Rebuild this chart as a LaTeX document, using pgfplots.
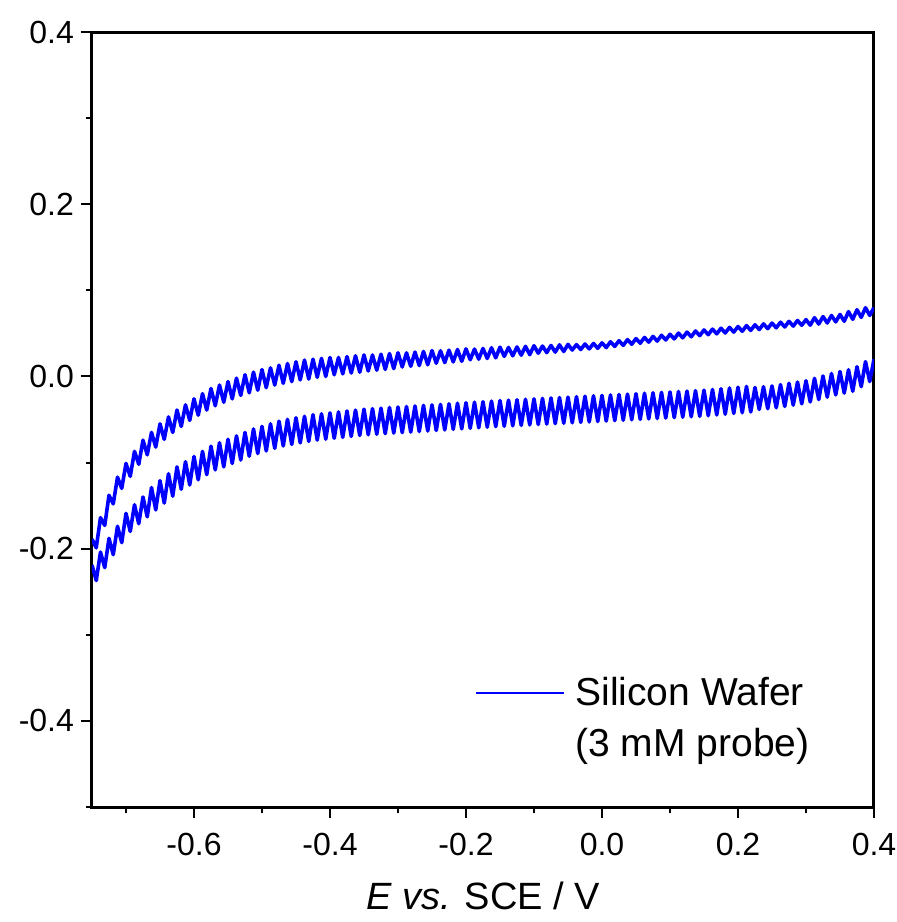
\documentclass[border=0pt]{standalone}
\usepackage{pgfplots}
\pgfplotsset{compat=1.18}
\usepackage{pgfplotstable}
\usepackage{fontspec}
\setmainfont{Liberation Sans}

\pgfplotstableread{
x yu yl
-0.75 -0.189 -0.219
-0.74375 -0.199 -0.237
-0.7375 -0.164 -0.204
-0.73125 -0.173 -0.222
-0.725 -0.138 -0.188
-0.71875 -0.148 -0.207
-0.7125 -0.117 -0.174
-0.70625 -0.130 -0.193
-0.7 -0.101 -0.159
-0.69375 -0.116 -0.180
-0.6875 -0.087 -0.149
-0.68125 -0.102 -0.171
-0.675 -0.074 -0.140
-0.66875 -0.091 -0.163
-0.6625 -0.065 -0.129
-0.65625 -0.082 -0.155
-0.65 -0.055 -0.121
-0.64375 -0.073 -0.147
-0.6375 -0.047 -0.113
-0.63125 -0.065 -0.139
-0.625 -0.039 -0.105
-0.61875 -0.058 -0.131
-0.6125 -0.033 -0.099
-0.60625 -0.051 -0.126
-0.6 -0.026 -0.093
-0.59375 -0.045 -0.120
-0.5875 -0.020 -0.087
-0.58125 -0.039 -0.114
-0.575 -0.014 -0.081
-0.56875 -0.034 -0.1085
-0.5625 -0.010 -0.077
-0.55625 -0.030 -0.105
-0.55 -0.006 -0.073
-0.54375 -0.026 -0.101
-0.5375 -0.002 -0.069
-0.53125 -0.022 -0.097
-0.525 0.002 -0.065
-0.51875 -0.019 -0.0926
-0.5125 0.005 -0.061
-0.50625 -0.016 -0.0895
-0.5 0.008 -0.058
-0.49375 -0.013 -0.0865
-0.4875 0.010 -0.055
-0.48125 -0.010 -0.0835
-0.475 0.013 -0.052
-0.46875 -0.008 -0.0807
-0.4625 0.015 -0.0498
-0.45625 -0.006 -0.0789
-0.45 0.017 -0.048
-0.44375 -0.004 -0.0771
-0.4375 0.019 -0.0463
-0.43125 -0.003 -0.0754
-0.425 0.020 -0.0445
-0.41875 -0.001 -0.0739
-0.4125 0.021 -0.0434
-0.40625 0.000 -0.0728
-0.4 0.022 -0.0423
-0.39375 0.002 -0.0718
-0.3875 0.022 -0.0412
-0.38125 0.003 -0.0707
-0.375 0.023 -0.0401
-0.36875 0.004 -0.0696
-0.3625 0.024 -0.0391
-0.35625 0.005 -0.0685
-0.35 0.025 -0.038
-0.34375 0.0064 -0.0677
-0.3375 0.0249 -0.0374
-0.33125 0.0073 -0.0671
-0.325 0.0258 -0.0368
-0.31875 0.0082 -0.0664
-0.3125 0.0266 -0.0361
-0.30625 0.0091 -0.0658
-0.3 0.0275 -0.0355
-0.29375 0.011 -0.0652
-0.2875 0.0274 -0.0349
-0.28125 0.0118 -0.0646
-0.275 0.0283 -0.0343
-0.26875 0.0127 -0.0639
-0.2625 0.0291 -0.0336
-0.25625 0.0136 -0.0633
-0.25 0.030 -0.033
-0.24375 0.0154 -0.0627
-0.2375 0.0298 -0.0324
-0.23125 0.0161 -0.0621
-0.225 0.0305 -0.0318
-0.21875 0.0169 -0.0614
-0.2125 0.0313 -0.0311
-0.20625 0.0176 -0.0608
-0.2 0.032 -0.0305
-0.19375 0.0194 -0.0602
-0.1875 0.0318 -0.0299
-0.18125 0.0201 -0.0596
-0.175 0.0325 -0.0293
-0.16875 0.0209 -0.0589
-0.1625 0.0333 -0.0286
-0.15625 0.0216 -0.0583
-0.15 0.034 -0.028
-0.14375 0.0233 -0.0578
-0.1375 0.0337 -0.0275
-0.13125 0.024 -0.0573
-0.125 0.0343 -0.027
-0.11875 0.0247 -0.0568
-0.1125 0.035 -0.0265
-0.10625 0.0253 -0.0563
-0.1 0.0357 -0.026
-0.09375 0.027 -0.0558
-0.0875 0.0353 -0.0255
-0.08125 0.0277 -0.0553
-0.075 0.036 -0.025
-0.06875 0.0283 -0.0548
-0.0625 0.0367 -0.0245
-0.05625 0.029 -0.0543
-0.05 0.0373 -0.024
-0.04375 0.0307 -0.0538
-0.0375 0.037 -0.0235
-0.03125 0.0313 -0.0533
-0.025 0.0377 -0.023
-0.01875 0.032 -0.0528
-0.0125 0.0383 -0.0225
-0.00625 0.0327 -0.0523
0 0.039 -0.022
0.00625 0.0336 -0.0518
0.0125 0.0403 -0.0215
0.01875 0.0349 -0.0513
0.025 0.0415 -0.021
0.03125 0.0361 -0.0508
0.0375 0.0428 -0.0205
0.04375 0.0374 -0.0503
0.05 0.044 -0.020
0.05625 0.0386 -0.0498
0.0625 0.0453 -0.0195
0.06875 0.0399 -0.0493
0.075 0.0465 -0.019
0.08125 0.0411 -0.0488
0.0875 0.0478 -0.0185
0.09375 0.0424 -0.0483
0.1 0.049 -0.018
0.10625 0.0436 -0.0478
0.1125 0.0503 -0.0175
0.11875 0.0449 -0.0473
0.125 0.0515 -0.017
0.13125 0.0461 -0.0468
0.1375 0.0528 -0.0165
0.14375 0.0474 -0.0463
0.15 0.054 -0.016
0.15625 0.0485 -0.0456
0.1625 0.055 -0.0151
0.16875 0.0495 -0.0447
0.175 0.056 -0.0143
0.18125 0.0505 -0.0438
0.1875 0.057 -0.0134
0.19375 0.0515 -0.0429
0.2 0.058 -0.0125
0.20625 0.0525 -0.0421
0.2125 0.059 -0.0116
0.21875 0.0535 -0.0412
0.225 0.060 -0.0128
0.23125 0.0545 -0.0383
0.2375 0.061 -0.0119
0.24375 0.0555 -0.0374
0.25 0.062 -0.011
0.25625 0.0565 -0.0363
0.2625 0.063 -0.0095
0.26875 0.0575 -0.0348
0.275 0.064 -0.008
0.28125 0.0585 -0.0333
0.2875 0.065 -0.0065
0.29375 0.0595 -0.0318
0.3 0.066 -0.005
0.30625 0.0596 -0.0296
0.3125 0.0683 -0.0022
0.31875 0.0609 -0.0268
0.325 0.0695 0.0006
0.33125 0.0621 -0.024
0.3375 0.0708 0.0034
0.34375 0.0634 -0.0214
0.35 0.072 0.0057
0.35625 0.0641 -0.0193
0.3625 0.0753 0.0078
0.36875 0.0664 -0.0172
0.375 0.0775 0.0113
0.38125 0.0686 -0.0118
0.3875 0.0798 0.0172
0.39375 0.0709 -0.0059
0.4 0.080 0.020
}\cvdata

\begin{document}
\begin{tikzpicture}
\begin{axis}[
  at={(0,0)}, anchor=south west,
  scale only axis, width=391pt, height=387.5pt,
  xmin=-0.75, xmax=0.4, ymin=-0.5, ymax=0.4,
  xtick={-0.6,-0.4,-0.2,0,0.2,0.4},
  ytick={-0.4,-0.2,0,0.2,0.4},
  minor xtick={-0.7,-0.5,-0.3,-0.1,0.1,0.3},
  minor ytick={-0.5,-0.3,-0.1,0.1,0.3},
  xtick pos=left, ytick pos=left,
  tick align=outside,
  major tick length=5.5pt, minor tick length=3pt,
  every tick/.style={black, line width=1pt},
  axis line style={line width=1.5pt},
  tick label style={font=\fontsize{16}{19}\selectfont},
  xticklabel style={yshift=-4pt, /pgf/number format/assume math mode=true, /pgf/number format/fixed, /pgf/number format/fixed zerofill, /pgf/number format/precision=1},
  yticklabel style={/pgf/number format/assume math mode=true, /pgf/number format/fixed, /pgf/number format/fixed zerofill, /pgf/number format/precision=1},
  xlabel={\textit{E vs.} SCE / V},
  xlabel style={font=\fontsize{19}{22}\selectfont, at={(axis description cs:0.5,0)}, anchor=base, yshift=-51pt},
  legend style={draw=none, fill=none, at={(axis description cs:0.4898,0.1703)}, anchor=north west, inner sep=0pt, font=\fontsize{19.5}{23}\selectfont, row sep=8pt, column sep=4pt, nodes={inner sep=1pt}},
  legend cell align=left,
  legend image code/.code={\draw[#1, line width=1pt] (0pt,0pt) -- (44pt,0pt);},
]
\addplot[color={rgb,255:red,0;green,0;blue,255}, line width=1.8pt, line join=round] table[x=x, y=yu] {\cvdata};
\addlegendentry{Silicon Wafer}
\addplot[color={rgb,255:red,0;green,0;blue,255}, line width=1.8pt, line join=round, forget plot] table[x=x, y=yl] {\cvdata};
\addlegendimage{empty legend}
\addlegendentry{(3 mM probe)}
\end{axis}
\pgfresetboundingbox
\path (-46pt,-57.5pt) rectangle (402pt,403.5pt);
\end{tikzpicture}
\end{document}
